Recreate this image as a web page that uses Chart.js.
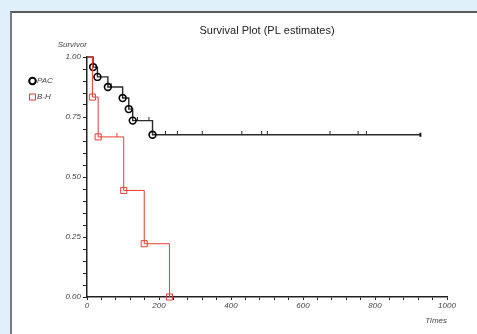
<!DOCTYPE html>
<html>
<head>
<meta charset="utf-8">
<script src="https://cdn.jsdelivr.net/npm/chart.js@4.4.0/dist/chart.umd.min.js"></script>
<style>
  html, body { margin: 0; padding: 0; }
  body { width: 477px; height: 334px; background: #dff0fa; overflow: hidden; position: relative; }
  #panel { position: absolute; left: 10px; top: 11px; width: 520px; height: 400px;
           background: #fff; border-left: 2px solid #7a7a7a; border-top: 2px solid #5a5a5a; }
  #survival { position: absolute; left: 0; top: 0; }
</style>
</head>
<body>
<div id="panel"></div>
<canvas id="survival" width="477" height="334"></canvas>
<script>
// PAC group: event times and product-limit estimates (first = start, last = end of follow-up)
const pac_times = [0, 17, 29, 58, 99, 116, 127, 182, 926]
const pac_surv = [1, 0.958, 0.917, 0.875, 0.829, 0.783, 0.735, 0.676, 0.676]
const pac_censor_times = [67, 140, 172, 218, 251, 320, 430, 485, 501, 675, 753, 776, 926]
const pac_censor_surv = [0.875, 0.735, 0.735, 0.676, 0.676, 0.676, 0.676, 0.676, 0.676, 0.676, 0.676, 0.676, 0.676]

// B-H group
const bh_times = [0, 15, 31, 102, 159, 229]
const bh_surv = [1, 0.833, 0.667, 0.444, 0.222, 0]
const bh_censor_times = [83]
const bh_censor_surv = [0.667]

const x_ticks = [0, 200, 400, 600, 800, 1000]
const y_ticks = [0, 0.25, 0.5, 0.75, 1]

const pac_color = `#2b2b2b`
const bh_color = `#ee3b32`
const label_font = { family: `"Liberation Sans", Arial, sans-serif`, size: 8, style: `italic` }

function toPoints(xs, ys) {
    return xs.map((x, i) => ({ x: x, y: ys[i] }))
}

// small censoring tick, drawn above the line
function censorMark(color, w, h, full) {
    const c = document.createElement(`canvas`)
    c.width = w + 2
    c.height = h * 2
    const g = c.getContext(`2d`)
    g.fillStyle = color
    if (full) g.fillRect(1, h / 2, w, h)
    else g.fillRect(1, 0, w, h)
    return c
}
const tick_small = censorMark(pac_color, 1, 4, false)
const tick_end = censorMark(`#111`, 2, 4, true)
const tick_red = censorMark(bh_color, 1, 4, false)

const texts = {
    id: `texts`,
    afterDraw(chart) {
        const ctx = chart.ctx
        const area = chart.chartArea
        ctx.save()
        ctx.fillStyle = `#222`
        ctx.font = `11px "Liberation Sans", Arial, sans-serif`
        ctx.textAlign = `center`
        ctx.textBaseline = `middle`
        ctx.fillText(`Survival Plot (PL estimates)`, 267, 31)

        ctx.fillStyle = `#444`
        ctx.font = `italic 8px "Liberation Sans", Arial, sans-serif`
        ctx.textAlign = `right`
        ctx.fillText(`Survivor`, area.left, 45)
        ctx.fillText(`Times`, area.right, 321)

        // legend
        const items = [
            { label: `PAC`, y: 81, color: `#000`, shape: `circle` },
            { label: `B-H`, y: 97, color: bh_color, shape: `rect` }
        ]
        items.forEach(it => {
            ctx.strokeStyle = it.color
            if (it.shape === `circle`) {
                ctx.lineWidth = 2
                ctx.beginPath()
                ctx.arc(32.5, it.y, 3.3, 0, Math.PI * 2)
                ctx.stroke()
            } else {
                ctx.lineWidth = 1
                ctx.strokeRect(29.5, it.y - 3, 6, 6)
            }
            ctx.fillStyle = `#444`
            ctx.textAlign = `left`
            ctx.fillText(it.label, 37, it.y)
        })
        ctx.restore()
    }
}

const chart_ctx = document.getElementById(`survival`).getContext(`2d`)
const chart_opt = {
    type: `line`,
    data: {
        datasets: [{
            label: `B-H`,
            data: toPoints(bh_times, bh_surv),
            borderColor: bh_color,
            borderWidth: 1,
            stepped: `before`,
            pointStyle: `rect`,
            pointRadius: (c) => c.dataIndex === 0 ? 0 : 4.3,
            pointBorderColor: bh_color,
            pointBackgroundColor: `rgba(0,0,0,0)`,
            pointBorderWidth: 1,
            clip: false,
            order: 0
        }, {
            label: `PAC`,
            data: toPoints(pac_times, pac_surv),
            borderColor: pac_color,
            borderWidth: 1.4,
            stepped: `before`,
            pointStyle: `circle`,
            pointRadius: (c) => (c.dataIndex === 0 || c.dataIndex === pac_times.length - 1) ? 0 : 3.4,
            pointBorderColor: `#000`,
            pointBackgroundColor: `rgba(0,0,0,0)`,
            pointBorderWidth: 1.6,
            clip: false,
            order: 1
        }, {
            label: `PAC censored`,
            data: toPoints(pac_censor_times, pac_censor_surv),
            showLine: false,
            pointStyle: (c) => c.dataIndex === pac_censor_times.length - 1 ? tick_end : tick_small,
            pointRadius: 3,
            clip: false,
            order: 2
        }, {
            label: `B-H censored`,
            data: toPoints(bh_censor_times, bh_censor_surv),
            showLine: false,
            pointStyle: tick_red,
            pointRadius: 3,
            clip: false,
            order: 0
        }]
    },
    options: {
        responsive: false,
        animation: false,
        devicePixelRatio: 1,
        layout: { padding: { top: 57, right: 30, bottom: 0, left: 0 } },
        plugins: { legend: { display: false }, tooltip: { enabled: false } },
        scales: {
            x: {
                type: `linear`,
                min: 0,
                max: 1000,
                afterFit: (s) => { s.height = 37 },
                border: { color: `#222`, width: 1.5 },
                grid: { drawOnChartArea: false, drawTicks: true, tickLength: 3, color: `#222` },
                ticks: {
                    stepSize: 40,
                    autoSkip: false,
                    maxRotation: 0,
                    padding: 1,
                    color: `#444`,
                    font: label_font,
                    callback: (v) => x_ticks.includes(v) ? String(v) : ``
                }
            },
            y: {
                type: `linear`,
                min: 0,
                max: 1,
                afterFit: (s) => { s.width = 87 },
                border: { color: `#222`, width: 1.5 },
                grid: { drawOnChartArea: false, drawTicks: true, tickLength: 4, color: `#222` },
                ticks: {
                    stepSize: 0.05,
                    autoSkip: false,
                    padding: 2,
                    color: `#444`,
                    font: label_font,
                    callback: (v) => y_ticks.some(t => Math.abs(t - v) < 1e-6) ? v.toFixed(2) : ``
                }
            }
        }
    },
    plugins: [texts]
}
const chart = new Chart(chart_ctx, chart_opt)
</script>
</body>
</html>
